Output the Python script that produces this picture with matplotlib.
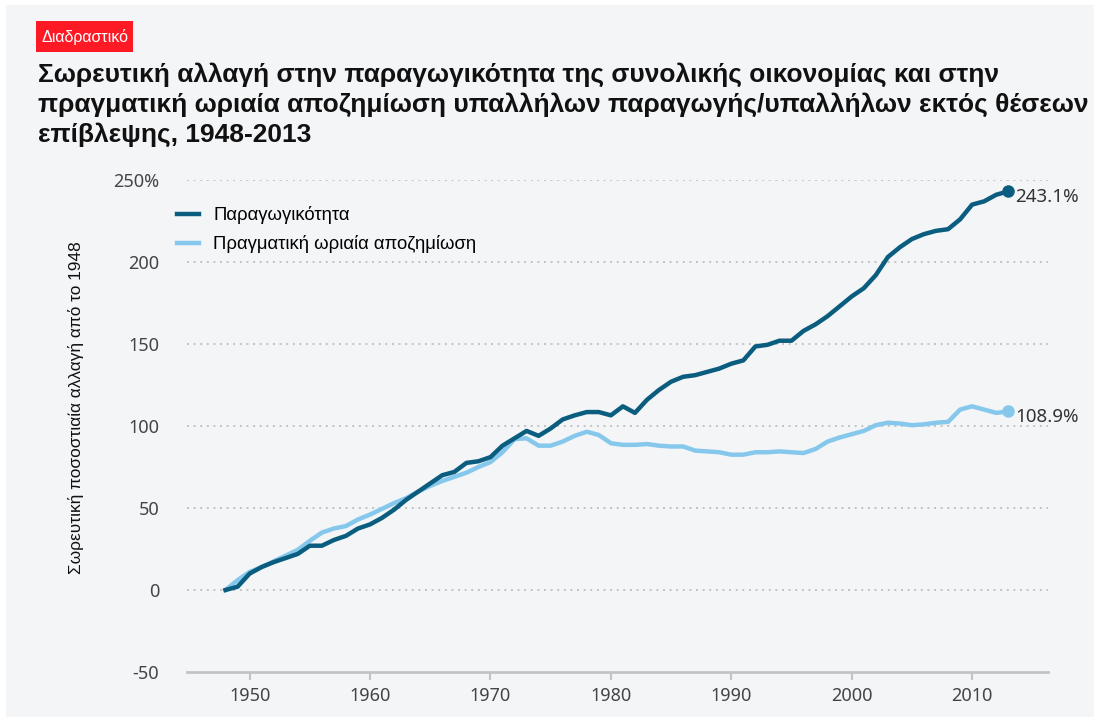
import numpy as np
import matplotlib.pyplot as plt
from matplotlib.patches import Rectangle

# Years and cumulative % change since 1948
years = list(range(1948, 2014))
productivity = [
    0, 2, 10, 14, 17, 19.5, 22, 27, 27, 30.5,
    33, 37.5, 40, 44, 49, 55, 60, 65, 70, 72,
    77.5, 78.5, 81, 88, 92.5, 97, 94, 98.5, 104, 106.5,
    108.5, 108.5, 106.5, 112, 108, 116, 122, 127, 130, 131,
    133, 135, 138, 140, 148.5, 149.5, 152, 152, 158, 162,
    167, 173, 179, 184, 192, 203, 209, 214, 217, 219,
    220, 226, 235, 237, 241, 243.1,
]
compensation = [
    0, 6, 11, 14, 17.5, 21, 24.5, 30, 35, 37.5,
    39, 43, 46, 49.5, 53, 56, 60, 63.5, 66.5, 69,
    71.5, 75, 78, 84, 92, 92.5, 88, 88, 90.5, 94,
    96.5, 94.5, 89.5, 88.5, 88.5, 89, 88, 87.5, 87.5, 85,
    84.5, 84, 82.5, 82.5, 84, 84, 84.5, 84, 83.5, 86,
    90.5, 93, 95, 97, 100.5, 102, 101.5, 100.5, 101, 102,
    102.5, 110, 112, 110, 108, 108.9,
]
series_names = ["Παραγωγικότητα", "Πραγματική ωριαία αποζημίωση"]
y_ticks = [-50, 0, 50, 100, 150, 200, 250]
y_tick_labels = ["-50", "0", "50", "100", "150", "200", "250%"]
x_ticks = [1950, 1960, 1970, 1980, 1990, 2000, 2010]

title_lines = [
    "Σωρευτική αλλαγή στην παραγωγικότητα της συνολικής οικονομίας και στην",
    "πραγματική ωριαία αποζημίωση υπαλλήλων παραγωγής/υπαλλήλων εκτός θέσεων",
    "επίβλεψης, 1948-2013",
]
ylabel = "Σωρευτική ποσοστιαία αλλαγή από το 1948"

dark = "#0b5d80"
light = "#86c8ec"
bg = "#f4f5f7"
W, H = 1100, 722

fig = plt.figure(figsize=(W / 100, H / 100), dpi=100, facecolor="white")

# grey panel with thin white margin
fig.patches.append(Rectangle((6 / W, 5 / H), (W - 12) / W, (H - 10) / H,
                             transform=fig.transFigure, facecolor=bg,
                             edgecolor="none", zorder=-2))

# red badge
fig.patches.append(Rectangle((36 / W, 1 - 52 / H), 97 / W, 31 / H,
                             transform=fig.transFigure, facecolor="#fd1a25",
                             edgecolor="none", zorder=-1))
fig.text(41 / W, 1 - 37 / H, "Διαδραστικό", color="white", fontsize=11.5,
         family="Liberation Sans", va="center", ha="left")

for i, line in enumerate(title_lines):
    fig.text(38 / W, 1 - (75 + 30 * i) / H, line, fontsize=19, fontweight="bold",
             family="Liberation Sans", va="center", ha="left", color="#111111")

ax = fig.add_axes([187 / W, 1 - 672 / H, (1048 - 187) / W, (672 - 180) / H])
ax.set_facecolor("none")

ax.plot(years, productivity, color=dark, lw=3.2, solid_joinstyle="round",
        label=series_names[0], zorder=3)
ax.plot(years, compensation, color=light, lw=3.2, solid_joinstyle="round",
        label=series_names[1], zorder=2)
ax.plot(years[-1], productivity[-1], "o", color=dark, ms=8, zorder=4)
ax.plot(years[-1], compensation[-1], "o", color=light, ms=8, zorder=4)
ax.annotate(f"{productivity[-1]}%", (years[-1], productivity[-1]),
            xytext=(5, -4), textcoords="offset points", va="center",
            fontsize=13.5, color="#333333", family="Noto Sans")
ax.annotate(f"{compensation[-1]}%", (years[-1], compensation[-1]),
            xytext=(5, -4), textcoords="offset points", va="center",
            fontsize=13.5, color="#333333", family="Noto Sans")

ax.set_xlim(1944.8, 2016.3)
ax.set_ylim(-50, 250)
ax.set_yticks(y_ticks)
ax.set_yticklabels(y_tick_labels)
ax.set_xticks(x_ticks)
for v in y_ticks[1:]:
    ax.axhline(v, color="#c2c2c2", lw=1.4, ls=(0, (1.0, 2.4)), zorder=1)

for s in ["top", "right", "left"]:
    ax.spines[s].set_visible(False)
ax.spines["bottom"].set_color("#c4c4c4")
ax.spines["bottom"].set_linewidth(2)
ax.tick_params(axis="y", length=0, pad=20, labelsize=13, labelcolor="#444444")
ax.tick_params(axis="x", length=6, width=1.5, color="#c4c4c4", pad=5,
               labelsize=13, labelcolor="#444444")
for lab in ax.get_xticklabels() + ax.get_yticklabels():
    lab.set_family("Noto Sans")

ax.set_ylabel(ylabel, fontsize=12.4, family="Liberation Sans", color="#111111")
ax.yaxis.set_label_coords(-0.12, 0.537)

ax.legend(loc="upper left", bbox_to_anchor=(177 / W, 1 - 206 / H),
          bbox_transform=fig.transFigure, frameon=False,
          borderpad=0, borderaxespad=0,
          handlelength=1.2, handletextpad=0.75, labelspacing=0.6,
          prop={"family": "Liberation Sans", "size": 13.3})

fig.savefig("out.png", dpi=100, facecolor="white")
